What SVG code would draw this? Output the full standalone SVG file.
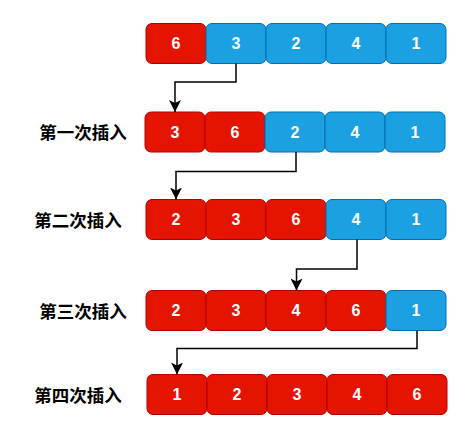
<svg xmlns="http://www.w3.org/2000/svg" width="476" height="428" viewBox="0 0 476 428">
<style>
.r{fill:#e51400;stroke:#b20000;stroke-width:1}
.b{fill:#1ba1e2;stroke:#006eaf;stroke-width:1}
.n{font-family:"Liberation Sans",Arial,sans-serif;font-weight:bold;font-size:16px;fill:#fff;text-anchor:middle;dominant-baseline:central}
.l{font-family:"Noto Sans CJK SC","Noto Sans",sans-serif;font-weight:bold;font-size:17.5px;fill:#000;text-anchor:middle;dominant-baseline:central}
.c{fill:none;stroke:#000;stroke-width:1.5}
</style>
<defs>
<marker id="ah" viewBox="0 0 12 12" refX="12" refY="6" markerWidth="12" markerHeight="12" markerUnits="userSpaceOnUse" orient="auto">
<path d="M0,0 L12,6 L0,12 L3,6 Z" fill="#000"/>
</marker>
</defs>
<g id="row0">
<rect class="r" x="146" y="23.5" width="60" height="40" rx="6"/><text class="n" x="176" y="43.5">6</text>
<rect class="b" x="206" y="23.5" width="60" height="40" rx="6"/><text class="n" x="236" y="43.5">3</text>
<rect class="b" x="266" y="23.5" width="60" height="40" rx="6"/><text class="n" x="296" y="43.5">2</text>
<rect class="b" x="326" y="23.5" width="60" height="40" rx="6"/><text class="n" x="356" y="43.5">4</text>
<rect class="b" x="386" y="23.5" width="60" height="40" rx="6"/><text class="n" x="416" y="43.5">1</text>
</g>
<g id="row1">
<text class="l" x="83" y="131.5">第一次插入</text>
<rect class="r" x="145" y="112" width="60" height="40" rx="6"/><text class="n" x="175" y="132">3</text>
<rect class="r" x="205" y="112" width="60" height="40" rx="6"/><text class="n" x="235" y="132">6</text>
<rect class="b" x="265" y="112" width="60" height="40" rx="6"/><text class="n" x="295" y="132">2</text>
<rect class="b" x="325" y="112" width="60" height="40" rx="6"/><text class="n" x="355" y="132">4</text>
<rect class="b" x="385" y="112" width="60" height="40" rx="6"/><text class="n" x="415" y="132">1</text>
</g>
<g id="row2">
<text class="l" x="78" y="219.5">第二次插入</text>
<rect class="r" x="146" y="199.5" width="60" height="40" rx="6"/><text class="n" x="176" y="219.5">2</text>
<rect class="r" x="206" y="199.5" width="60" height="40" rx="6"/><text class="n" x="236" y="219.5">3</text>
<rect class="r" x="266" y="199.5" width="60" height="40" rx="6"/><text class="n" x="296" y="219.5">6</text>
<rect class="b" x="326" y="199.5" width="60" height="40" rx="6"/><text class="n" x="356" y="219.5">4</text>
<rect class="b" x="386" y="199.5" width="60" height="40" rx="6"/><text class="n" x="416" y="219.5">1</text>
</g>
<g id="row3">
<text class="l" x="83" y="310.5">第三次插入</text>
<rect class="r" x="146" y="290.5" width="60" height="40" rx="6"/><text class="n" x="176" y="310.5">2</text>
<rect class="r" x="206" y="290.5" width="60" height="40" rx="6"/><text class="n" x="236" y="310.5">3</text>
<rect class="r" x="266" y="290.5" width="60" height="40" rx="6"/><text class="n" x="296" y="310.5">4</text>
<rect class="r" x="326" y="290.5" width="60" height="40" rx="6"/><text class="n" x="356" y="310.5">6</text>
<rect class="b" x="386" y="290.5" width="60" height="40" rx="6"/><text class="n" x="416" y="310.5">1</text>
</g>
<g id="row4">
<text class="l" x="78" y="394.5">第四次插入</text>
<rect class="r" x="147" y="374.5" width="60" height="40" rx="6"/><text class="n" x="177" y="394.5">1</text>
<rect class="r" x="207" y="374.5" width="60" height="40" rx="6"/><text class="n" x="237" y="394.5">2</text>
<rect class="r" x="267" y="374.5" width="60" height="40" rx="6"/><text class="n" x="297" y="394.5">3</text>
<rect class="r" x="327" y="374.5" width="60" height="40" rx="6"/><text class="n" x="357" y="394.5">4</text>
<rect class="r" x="387" y="374.5" width="60" height="40" rx="6"/><text class="n" x="417" y="394.5">6</text>
</g>
<g id="connectors">
<path class="c" marker-end="url(#ah)" d="M236,63.5 V82 H175 V112"/>
<path class="c" marker-end="url(#ah)" d="M296,152 V171.5 H176 V199.5"/>
<path class="c" marker-end="url(#ah)" d="M357,239.5 V269 H296.5 V290.5"/>
<path class="c" marker-end="url(#ah)" d="M417,330.5 V348.5 H177 V374.5"/>
</g>
</svg>
